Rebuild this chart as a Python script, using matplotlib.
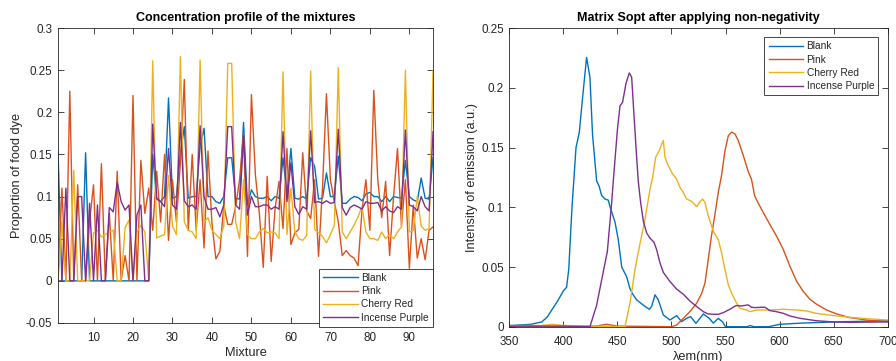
import matplotlib
matplotlib.use("Agg")
import matplotlib.pyplot as plt
import numpy as np

plt.rcParams['font.family'] = ['Liberation Sans', 'DejaVu Sans']
plt.rcParams['font.size'] = 9

# ---------------- Left chart data ----------------
mixtures = list(range(1, 97))
series_names = ["Blank", "Pink", "Cherry Red", "Incense Purple"]
colors = ["#0072BD", "#D95319", "#EDB120", "#7E2F8E"]

blank = [0.154, 0, 0, 0, 0, 0, 0, 0.152, 0, 0, 0, 0, 0, 0, 0, 0, 0, 0, 0, 0, 0, 0, 0, 0,
         0.15, 0.097, 0.094, 0.1, 0.217, 0.098, 0.1, 0.15, 0.183, 0.098, 0.1, 0.1, 0.16, 0.181,
         0.1, 0.1, 0.094, 0.092, 0.1, 0.146, 0.146, 0.098, 0.097, 0.188, 0.09, 0.108, 0.1, 0.098,
         0.098, 0.1, 0.095, 0.1, 0.098, 0.146, 0.102, 0.157, 0.098, 0.097, 0.1, 0.097, 0.146,
         0.136, 0.097, 0.098, 0.128, 0.1, 0.1, 0.148, 0.092, 0.092, 0.097, 0.1, 0.099, 0.095,
         0.103, 0.105, 0.1, 0.1, 0.094, 0.1, 0.094, 0.1, 0.099, 0.098, 0.143, 0.1, 0.096, 0.094,
         0.122, 0.098, 0.097, 0.146]

pink = [0, 0.11, 0, 0.225, 0, 0.114, 0, 0, 0.07, 0.114, 0, 0.139, 0, 0.08, 0, 0.13, 0, 0.03,
        0, 0.22, 0, 0.143, 0.08, 0.11,
        0.06, 0.13, 0.07, 0.15, 0.048, 0.12, 0.07, 0.14, 0.239, 0.06, 0.15, 0.06, 0.12, 0.039,
        0.154, 0.068, 0.026, 0.035, 0.09, 0.067, 0.067, 0.088, 0.12, 0.175, 0.029, 0.221, 0.126,
        0.08, 0.016, 0.124, 0.023, 0.086, 0.118, 0.062, 0.157, 0.043, 0.057, 0.061, 0.152, 0.083,
        0.074, 0.12, 0.029, 0.11, 0.222, 0.12, 0.094, 0.07, 0.03, 0.036, 0.03, 0.027, 0.018,
        0.083, 0.12, 0.06, 0.226, 0.12, 0.075, 0.118, 0.03, 0.1, 0.157, 0.065, 0.12, 0.015, 0.09,
        0.027, 0.05, 0.025, 0.06, 0.064]

cherry = [0, 0.07, 0, 0, 0.131, 0, 0, 0, 0, 0.057, 0.06, 0.052, 0.055, 0.058, 0.06, 0, 0,
          0.063, 0.072, 0, 0.058, 0.066, 0.058, 0,
          0.261, 0.051, 0.053, 0.055, 0.125, 0.065, 0.055, 0.266, 0.07, 0.06, 0.058, 0.05, 0.262,
          0.07, 0.075, 0.06, 0.055, 0.05, 0.065, 0.258, 0.258, 0.07, 0.05, 0.12, 0.055, 0.05, 0.05,
          0.058, 0.062, 0.057, 0.058, 0.057, 0.05, 0.248, 0.055, 0.11, 0.058, 0.05, 0.048, 0.054,
          0.249, 0.061, 0.057, 0.053, 0.045, 0.055, 0.066, 0.253, 0.058, 0.05, 0.058, 0.066, 0.076,
          0.088, 0.058, 0.05, 0.05, 0.048, 0.058, 0.05, 0.055, 0.05, 0.058, 0.064, 0.25, 0.058,
          0.06, 0.1, 0.065, 0.06, 0.062, 0.249]

purple = [0, 0, 0.11, 0, 0, 0.1, 0.1, 0, 0.092, 0, 0.09, 0, 0, 0.087, 0.082, 0.117, 0.094,
          0.084, 0.09, 0, 0.078, 0.09, 0, 0,
          0.186, 0.098, 0.094, 0.088, 0.157, 0.09, 0.085, 0.188, 0.095, 0.088, 0.09, 0.085, 0.184,
          0.1, 0.085, 0.085, 0.087, 0.076, 0.09, 0.183, 0.183, 0.09, 0.085, 0.172, 0.078, 0.1,
          0.088, 0.088, 0.09, 0.09, 0.085, 0.088, 0.085, 0.177, 0.094, 0.14, 0.088, 0.079, 0.088,
          0.085, 0.178, 0.093, 0.094, 0.092, 0.095, 0.092, 0.093, 0.18, 0.087, 0.078, 0.087, 0.09,
          0.088, 0.085, 0.094, 0.092, 0.092, 0.093, 0.083, 0.088, 0.083, 0.081, 0.088, 0.085,
          0.179, 0.09, 0.088, 0.083, 0.1, 0.088, 0.083, 0.177]

# ---------------- Right chart data ----------------
wl_blank = [350, 360, 370, 375, 380, 385, 390, 395, 400, 403, 405, 408, 411.7, 414.8, 417.8,
            421.5, 424.6, 427, 430.8, 433, 435.4, 438.5, 441.6, 443, 447.7, 450.8, 454, 458.5,
            461.6, 464, 467.8, 474, 479.5, 481.7, 484.8, 487.8, 492.5, 498.6, 504.8, 509.4, 514,
            517.7, 522.7, 529.5, 535, 538.7, 543.3, 547.3, 550, 570, 573, 576, 590, 600, 620, 650, 700]
int_blank = [0.001, 0.0015, 0.002, 0.003, 0.004, 0.008, 0.015, 0.022, 0.03, 0.033, 0.048, 0.1,
             0.15, 0.163, 0.192, 0.2256, 0.209, 0.161, 0.122, 0.118, 0.11, 0.107, 0.106, 0.101,
             0.088, 0.073, 0.05, 0.042, 0.032, 0.0275, 0.0225, 0.018, 0.0146, 0.017, 0.0267,
             0.0225, 0.0098, 0.0056, 0.0093, 0.0042, 0.007, 0.0084, 0.0028, 0.0107, 0.007, 0.003,
             0.007, 0.004, 0.0, 0.0, 0.001, 0.0, 0.0, 0.002, 0.003, 0.004, 0.005]

wl_pink = [350, 430, 440, 450, 500, 504.8, 511, 517, 523.3, 528, 531, 534, 537, 540, 543.3,
           546.4, 549.5, 552.6, 555.7, 558.8, 561.8, 566.5, 571, 574, 577, 580, 585, 591, 597.3,
           603.5, 609.6, 615.8, 622, 628, 634.3, 643.5, 652.8, 665, 680.5, 700]
int_pink = [0.0, 0.0005, 0.002, 0.0005, 0.0, 0.0014, 0.007, 0.0126, 0.0197, 0.028, 0.0365,
            0.056, 0.076, 0.0927, 0.1124, 0.127, 0.1475, 0.16, 0.163, 0.1615, 0.156, 0.1433,
            0.13, 0.1236, 0.1095, 0.104, 0.0955, 0.0857, 0.0758, 0.0646, 0.0506, 0.038, 0.0295,
            0.023, 0.0188, 0.014, 0.0107, 0.0076, 0.0056, 0.0042]

wl_cherry = [350, 380, 390, 400, 430, 457, 461.6, 466.3, 471, 475.5, 480.1, 482.6, 485.4,
             488.8, 491, 492.5, 494, 497, 501, 504.8, 507.9, 511, 514, 518.7, 523.3, 525.8,
             528.8, 531, 534, 538.7, 543.3, 546.4, 549.5, 552.6, 555.7, 560.3, 563.4, 569.5,
             572.6, 578.8, 591, 603.5, 615.8, 625, 634, 650, 665, 680.5, 700]
int_cherry = [0.001, 0.001, 0.002, 0.001, 0.0005, 0.0, 0.0197, 0.048, 0.07, 0.09, 0.115, 0.125,
              0.142, 0.1475, 0.153, 0.156, 0.142, 0.135, 0.128, 0.1236, 0.1166, 0.1124, 0.107,
              0.105, 0.1006, 0.104, 0.107, 0.104, 0.093, 0.08, 0.073, 0.0618, 0.0478, 0.035,
              0.028, 0.0197, 0.0154, 0.014, 0.0126, 0.014, 0.014, 0.0146, 0.014, 0.0132, 0.0112,
              0.0093, 0.0079, 0.0067, 0.0056]

wl_purple = [350, 400, 424.6, 430.8, 435.4, 440.7, 444.7, 446.2, 450, 452.4, 454.8, 457.9, 461,
             463.2, 465.3, 467.8, 469.3, 471.5, 474, 477, 480, 483.8, 486.3, 489.4, 492.5,
             498.6, 504.8, 511, 517, 523.3, 529.5, 534, 538.7, 543.3, 548, 554, 559.7, 565,
             571, 574, 577, 583.4, 586.5, 591, 597, 603.5, 609.6, 619, 634, 650, 665, 700]
int_purple = [0.0005, 0.0005, 0.0, 0.018, 0.039, 0.063, 0.104, 0.122, 0.165, 0.185, 0.188,
              0.2037, 0.2126, 0.209, 0.178, 0.142, 0.122, 0.104, 0.0885, 0.0787, 0.0744, 0.0708,
              0.0646, 0.0534, 0.0455, 0.0379, 0.0315, 0.0272, 0.0216, 0.0169, 0.0126, 0.0107,
              0.0104, 0.0104, 0.0118, 0.0146, 0.0177, 0.0174, 0.0183, 0.0163, 0.016, 0.0163,
              0.0163, 0.0135, 0.0126, 0.0112, 0.009, 0.007, 0.005, 0.004, 0.0037, 0.004]

TXT = "#262626"

fig = plt.figure(figsize=(8.96, 3.61), dpi=100)
ax1 = fig.add_axes([0.0647, 0.1053, 0.4186, 0.8171])
ax2 = fig.add_axes([0.5684, 0.0950, 0.4223, 0.8266])


def style(ax):
    for s in ax.spines.values():
        s.set_linewidth(0.6)
        s.set_color(TXT)
    ax.tick_params(direction='in', top=True, right=True, length=4, width=0.6,
                   colors=TXT, labelsize=8.4)
    ax.tick_params(axis='x', pad=6.5)
    ax.tick_params(axis='y', pad=4)


def make_legend(ax, anchor):
    leg = ax.legend(loc='upper right', bbox_to_anchor=anchor, fontsize=7.3, frameon=True,
                    fancybox=False, handlelength=3.4, labelspacing=0.33, borderpad=0.4,
                    handletextpad=0.35, borderaxespad=0)
    leg.get_frame().set_edgecolor(TXT)
    leg.get_frame().set_linewidth(0.6)
    leg.get_frame().set_alpha(1)
    for t in leg.get_texts():
        t.set_color(TXT)
    return leg


for vals, name, c in zip([blank, pink, cherry, purple], series_names, colors):
    ax1.plot(mixtures, vals, color=c, lw=1.0, label=name)
ax1.set_xlim(1, 96)
ax1.set_ylim(-0.05, 0.3)
ax1.set_xticks([10, 20, 30, 40, 50, 60, 70, 80, 90])
ax1.set_yticks([-0.05, 0, 0.05, 0.1, 0.15, 0.2, 0.25, 0.3])
ax1.set_yticklabels(["-0.05", "0", "0.05", "0.1", "0.15", "0.2", "0.25", "0.3"])
ax1.set_xlabel("Mixture", color=TXT, fontsize=9.2, labelpad=2)
ax1.set_ylabel("Proportion of food dye", color=TXT, fontsize=9.2, labelpad=2)
ax1.set_title("Concentration profile of the mixtures", fontweight='bold', fontsize=9, pad=5)
style(ax1)
make_legend(ax1, (1.0, 0.184))

for w, v, name, c in zip([wl_blank, wl_pink, wl_cherry, wl_purple],
                         [int_blank, int_pink, int_cherry, int_purple], series_names, colors):
    ax2.plot(w, v, color=c, lw=1.0, label=name)
ax2.set_xlim(350, 700)
ax2.set_ylim(0, 0.25)
ax2.set_xticks([350, 400, 450, 500, 550, 600, 650, 700])
ax2.set_yticks([0, 0.05, 0.1, 0.15, 0.2, 0.25])
ax2.set_yticklabels(["0", "0.05", "0.1", "0.15", "0.2", "0.25"])
ax2.set_xlabel("\u03bbem(nm)", color=TXT, fontsize=9.2, labelpad=2)
ax2.set_ylabel("Intensity of emission (a.u.)", color=TXT, fontsize=9.2, labelpad=2)
ax2.set_title("Matrix Sopt after applying non-negativity", fontweight='bold', fontsize=9, pad=5)
style(ax2)
make_legend(ax2, (0.975, 0.970))

fig.savefig("out.png", dpi=100)
